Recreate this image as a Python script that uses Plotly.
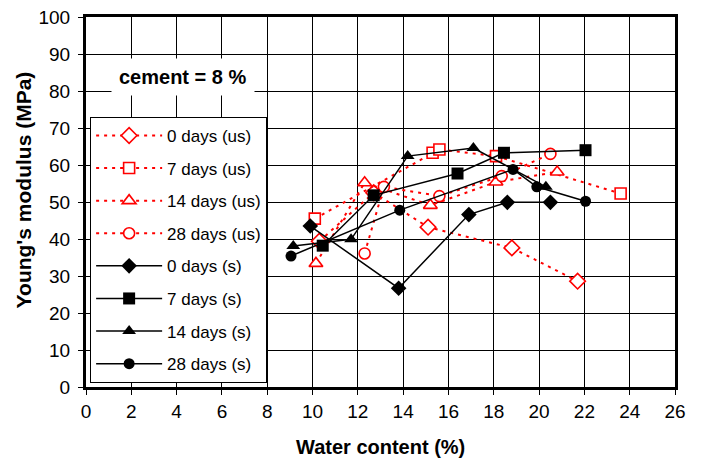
import plotly.graph_objects as go

# Unstabilised (us) and stabilised (s) specimens, cement = 8 %
us0_x = [10.3, 12.7, 15.1, 18.8, 21.7]
us0_y = [39.4, 52.5, 43.2, 37.6, 28.6]
us7_x = [10.1, 15.3, 15.6, 18.1, 23.6]
us7_y = [45.5, 63.3, 64.2, 62.4, 52.3]
us14_x = [10.15, 12.3, 15.2, 18.1, 20.8]
us14_y = [33.4, 55.2, 49.1, 55.4, 58.1]
us28_x = [12.3, 13.15, 15.6, 18.35, 20.5]
us28_y = [36.1, 54.1, 51.6, 57.0, 63.0]

s0_x = [9.9, 13.8, 16.9, 18.6, 20.5]
s0_y = [43.5, 26.7, 46.6, 49.9, 49.9]
s7_x = [10.45, 12.7, 16.4, 18.45, 22.05]
s7_y = [38.2, 51.8, 57.7, 63.3, 64.0]
s14_x = [9.15, 11.7, 14.2, 17.1, 20.3]
s14_y = [38.1, 39.9, 62.4, 64.6, 54.1]
s28_x = [9.05, 13.85, 18.85, 19.9, 22.05]
s28_y = [35.4, 47.8, 58.8, 54.1, 50.2]

x_ticks = list(range(0, 27, 2))
y_ticks = list(range(0, 101, 10))

RED = "#FF0000"
FONT = "Liberation Sans, Arial, sans-serif"

series = [
    ("0 days (us)", us0_x, us0_y, "diamond", 12, True),
    ("7 days (us)", us7_x, us7_y, "square", 11, True),
    ("14 days (us)", us14_x, us14_y, "triangle-up", 12, True),
    ("28 days (us)", us28_x, us28_y, "circle", 11, True),
    ("0 days (s)", s0_x, s0_y, "diamond", 12, False),
    ("7 days (s)", s7_x, s7_y, "square", 12, False),
    ("14 days (s)", s14_x, s14_y, "triangle-up", 12, False),
    ("28 days (s)", s28_x, s28_y, "circle", 11, False),
]

fig = go.Figure()
for i, (name, xs, ys, sym, size, unstab) in enumerate(series):
    if unstab:
        line = dict(color=RED, width=2, dash="3px,5px")
        marker = dict(symbol=sym, size=size, color="white",
                      line=dict(color=RED, width=1.6))
    else:
        line = dict(color="black", width=1.5)
        marker = dict(symbol=sym, size=size, color="black",
                      line=dict(color="black", width=0))
    fig.add_trace(go.Scatter(
        x=xs, y=ys, name=name, mode="lines+markers",
        line=line, marker=marker, legendgroup=f"g{i}",
    ))

fig.add_annotation(
    x=0.165, y=0.838, xref="paper", yref="paper",
    xanchor="center", yanchor="middle",
    text="<b>cement = 8 %</b>", showarrow=False,
    font=dict(family=FONT, size=20, color="black"),
    bgcolor="white", borderpad=7,
)

# axis titles placed as annotations
fig.add_annotation(
    x=-0.107, y=0.534, xref="paper", yref="paper",
    xanchor="center", yanchor="middle", textangle=-90,
    text="<b>Young's modulus (MPa)</b>", showarrow=False,
    font=dict(family=FONT, size=21, color="black"),
)
fig.add_annotation(
    x=0.5, y=-0.163, xref="paper", yref="paper",
    xanchor="center", yanchor="middle",
    text="<b>Water content (%)</b>", showarrow=False,
    font=dict(family=FONT, size=20, color="black"),
)

axis_common = dict(
    showgrid=True, gridcolor="black", gridwidth=1,
    showline=True, linecolor="black", linewidth=3, mirror=True,
    ticks="outside", ticklen=5, tickcolor="black", tickwidth=1,
    tickfont=dict(family=FONT, size=19, color="black"),
    zeroline=False, automargin=False,
)

fig.update_layout(
    width=702, height=462,
    margin=dict(l=86, r=27, t=17, b=75),
    paper_bgcolor="white", plot_bgcolor="white",
    font=dict(family=FONT, color="black"),
    showlegend=True,
    legend=dict(
        x=0.007, y=0.73, xanchor="left", yanchor="top",
        bgcolor="white", bordercolor="black", borderwidth=1,
        font=dict(family=FONT, size=17, color="black"),
        tracegroupgap=7.5, itemwidth=66,
    ),
    xaxis=dict(range=[0, 26], tickvals=x_ticks, **axis_common),
    yaxis=dict(range=[0, 100], tickvals=y_ticks, ticklabelstandoff=4,
               **axis_common),
)

fig.write_html("out.html")
